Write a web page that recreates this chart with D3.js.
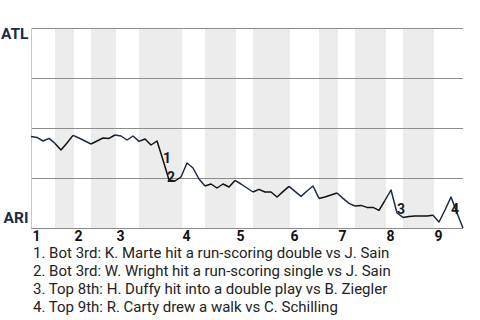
<!DOCTYPE html>
<html><head><meta charset="utf-8">
<script src="https://cdn.jsdelivr.net/npm/d3@7"></script>
<style>
body{margin:0;background:#fff;}
text{font-family:Roboto,"Noto Sans",sans-serif;}
</style>
</head><body>
<svg id="chart" width="480" height="320"></svg>
<script>
// ---- data ----
const innings = ["1","2","3","4","5","6","7","8","9"];
// plate appearances per half inning: top1, bot1, top2, bot2, ...
const halfInningPAs = [4,3, 3,4, 4,7, 4,5, 3,6, 5,3, 3,5, 3,5, 5];
// ATL win probability (%) after each plate appearance
const atlWinPct = [
  45.8,45.3,43.5,44.8,42.3,39.0,42.5,46.3,45.0,43.5,
  42.0,43.5,45.0,44.8,46.5,46.0,44.0,46.0,43.3,44.5,
  41.5,43.5,34.0,24.0,23.5,25.5,32.5,30.0,24.5,21.0,
  22.0,20.0,22.0,20.5,23.8,22.0,20.0,18.0,19.3,18.0,
  18.0,15.5,18.2,20.8,18.3,15.8,18.5,21.0,14.8,15.5,
  16.5,17.5,14.8,12.3,11.0,11.3,10.3,10.3,8.8,13.8,
  19.0,7.5,5.3,5.8,6.0,6.0,6.0,6.4,3.0,9.0,
  15.5,7.5,0
];
const teamLabels = ["ATL","ARI"];
const yTicks = [0,25,50,75,100];
const eventIdx = [22,23,61,70];
const eventNotes = [
  "1. Bot 3rd: K. Marte hit a run-scoring double vs J. Sain",
  "2. Bot 3rd: W. Wright hit a run-scoring single vs J. Sain",
  "3. Top 8th: H. Duffy hit into a double play vs B. Ziegler",
  "4. Top 9th: R. Carty drew a walk vs C. Schilling"
];

// ---- layout ----
const svg = d3.select("#chart");
const mLeft = 31, mRight = 463, mTop = 28, mBottom = 228;
const nPA = d3.sum(halfInningPAs);
const x = d3.scaleLinear().domain([0, nPA]).range([mLeft, mRight]);
const y = d3.scaleLinear().domain([0, 100]).range([mBottom, mTop]);

// half-inning boundaries
const bounds = [0];
halfInningPAs.forEach(n => bounds.push(bounds[bounds.length-1] + n));
const halves = halfInningPAs.map((n,i)=>({s:bounds[i], e:bounds[i+1], isTop: i%2===0}));

// shaded bottom halves
svg.append("g").selectAll("rect")
  .data(halves.filter(h=>!h.isTop))
  .join("rect")
  .attr("x", d=>x(d.s)).attr("width", d=>x(d.e)-x(d.s)+1)
  .attr("y", y(100)).attr("height", y(0)-y(100))
  .attr("fill", "#ececec");

// grid lines
const grid = svg.append("g").attr("transform", `translate(${mLeft},0)`)
  .call(d3.axisLeft(y).tickValues(yTicks).tickSize(-(mRight-mLeft)).tickFormat(""));
grid.select(".domain").remove();
grid.selectAll(".tick line").attr("stroke", "#8c8c8c").attr("stroke-width", 1.2);

// left vertical line
svg.append("line").attr("x1", mLeft+0.5).attr("x2", mLeft+0.5)
  .attr("y1", y(100)).attr("y2", y(0)).attr("stroke", "#c8c8c8");

// x axis labels
const inningStarts = innings.map((d,i)=>bounds[i*2]);
const xa = svg.append("g").attr("transform", `translate(0,${mBottom})`)
  .call(d3.axisBottom(x).tickValues(inningStarts).tickFormat((d,i)=>innings[i]).tickSize(0).tickPadding(0));
xa.select(".domain").remove();
xa.selectAll(".tick text")
  .attr("text-anchor","start").attr("dx", 1).attr("y", 0).attr("dy", 13.3)
  .attr("font-size", 14).attr("font-weight", "bold").attr("fill", "#111")
  .style("font-family","Roboto, sans-serif");

// team labels
svg.append("text").attr("x", 28.5).attr("y", y(100)+10.5).attr("text-anchor","end")
  .attr("font-size", 15.5).attr("font-weight","bold").attr("fill","#1b2a4a").text(teamLabels[0]);
svg.append("text").attr("x", 28.5).attr("y", y(0)-5).attr("text-anchor","end")
  .attr("font-size", 15.5).attr("font-weight","bold").attr("fill","#1b2a4a").text(teamLabels[1]);

// win probability line, colored by half inning
const line = d3.line().x(d=>x(d)).y(d=>y(atlWinPct[d]));
svg.append("g").selectAll("path")
  .data(halves)
  .join("path")
  .attr("d", h => line(d3.range(h.s, h.e+1)))
  .attr("fill","none")
  .attr("stroke", h => h.isTop ? "#1b2a4a" : "#111")
  .attr("stroke-width", 1.5)
  .attr("stroke-linejoin","round");

// event markers
const labelOffsets = [[0,3],[-2,2],[0,0.5],[0,17]];
svg.append("g").selectAll("text")
  .data(eventIdx)
  .join("text")
  .attr("x", (d,i)=>x(d)+labelOffsets[i][0])
  .attr("y", (d,i)=>y(atlWinPct[d])+labelOffsets[i][1])
  .attr("font-size", 14).attr("font-weight","bold").attr("fill","#1a1a1a")
  .text((d,i)=>i+1);

// event notes
svg.append("g").selectAll("text")
  .data(eventNotes)
  .join("text")
  .attr("x", 33).attr("y", (d,i)=>257.5 + i*18.2)
  .attr("font-size", 15).attr("fill","#222")
  .text(d=>d);
</script>
</body></html>
